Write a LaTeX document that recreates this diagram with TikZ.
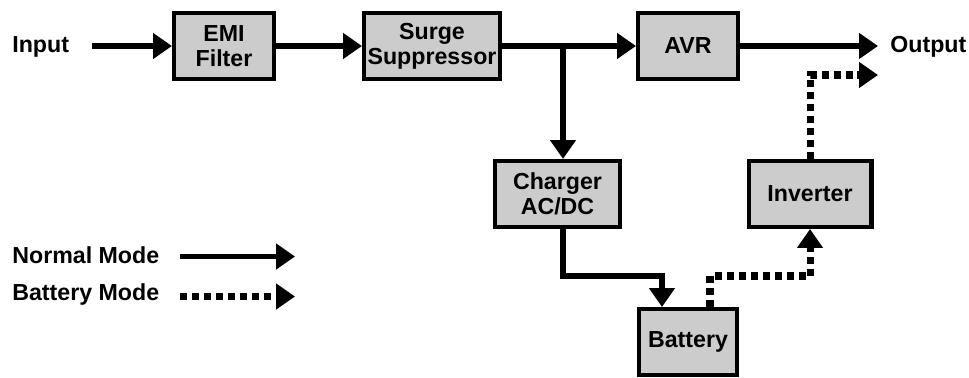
\documentclass[tikz,border=0pt]{standalone}
\usepackage{fontspec}
\setmainfont{Liberation Sans}
\usetikzlibrary{arrows.meta,positioning,calc}

\tikzset{
  block/.style={draw, line width=2.3pt, fill={rgb,255:red,204;green,204;blue,204},
    minimum height=1.32cm, inner sep=1pt, align=center},
  lbl/.style={inner sep=0pt},
  normmode/.style={line width=3.4pt, -{Triangle[length=10.8pt,width=14.2pt]}},
  batmode/.style={line width=4pt, dash pattern=on 4pt off 2.8pt,
    -{Triangle[length=10.8pt,width=14.2pt]}}
}

\begin{document}
\begin{tikzpicture}[x=0.02cm, y=-0.02cm, every node/.style={font=\fontsize{13.2}{14.2}\selectfont\bfseries}]
        \useasboundingbox (0,0) rectangle (969,378);
        \coordinate (in) at (92,46);
        \coordinate (jn) at (563,46);
        \coordinate (out) at (878,46);
        \coordinate (out2) at (878,75);
        \coordinate (c1) at (662,276);
        \coordinate (b1) at (710,276);

        \node [block, minimum width=2cm] (emi) at (224,46) {EMI\\Filter};
        \node [block, minimum width=2.72cm] (surge) at (432,46) {Surge\\Suppressor};
        \node [block, minimum width=2cm] (avr) at (688,46) {AVR};
        \node [block, minimum width=2.5cm] (charger) at (557.5,194) {Charger\\AC/DC};
        \node [block, minimum width=2.46cm] (inverter) at (810,194) {Inverter};
        \node [block, minimum width=1.96cm] (battery) at (688,342) {Battery};

        \node [lbl, anchor=base west] (input) at (12,53) {Input};
        \node [lbl, anchor=base west] (output) at (890,53) {Output};
        \node [lbl, anchor=base west] (normlbl) at (12,263) {Normal Mode};
        \node [lbl, anchor=base west] (batlbl) at (12,300) {Battery Mode};
        \coordinate (n1) at (180,256.5);
        \coordinate (n2) at (295,256.5);
        \coordinate (m1) at (180,296.5);
        \coordinate (m2) at (295,296.5);

        \draw [normmode] (in) -- (emi.west);
        \draw [normmode] (emi.east) -- (surge.west);
        \draw [normmode] (surge.east) -- (avr.west);
        \draw [normmode] (avr.east) -- (out);
        \draw [normmode] (jn) -- (jn |- charger.north);
        \draw [normmode] (jn |- charger.south) |- (c1) -- (c1 |- battery.north);

        \draw [batmode] (b1 |- battery.north) -- (b1) -| (inverter.south);
        \draw [batmode] (inverter.north) |- (out2);

        \draw [normmode] (n1) -- (n2);
        \draw [batmode] (m1) -- (m2);
    \end{tikzpicture}
\end{document}
